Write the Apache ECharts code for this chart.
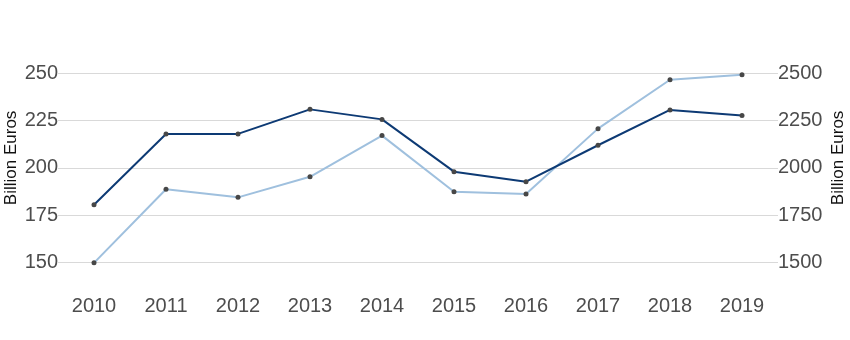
<!DOCTYPE html>
<html>
<head>
<meta charset="utf-8">
<script src="https://cdn.jsdelivr.net/npm/echarts@6/dist/echarts.min.js"></script>
<style>
  html, body { margin: 0; padding: 0; background: #fff; }
  #chart { width: 850px; height: 340px; }
</style>
</head>
<body>
<div id="chart"></div>
<script>
// Years on the category axis
const years = ['2010', '2011', '2012', '2013', '2014', '2015', '2016', '2017', '2018', '2019'];
// Left axis series (dark line), billion euros
const seriesLeft = [180.5, 218, 218, 231, 225.7, 198, 192.7, 212, 230.7, 227.7];
// Right axis series (light line), billion euros
const seriesRight = [1497, 1887, 1844, 1953, 2171, 1874, 1862, 2208, 2467, 2494];
// Axis tick settings
const leftTicks = [150, 175, 200, 225, 250];
const rightTicks = [1500, 1750, 2000, 2250, 2500];
const axisTitle = 'Billion Euros';

const chart = echarts.init(document.getElementById('chart'), null, { renderer: 'canvas' });

const labelStyle = { color: '#4d4d4d', fontSize: 20, fontFamily: 'Liberation Sans, Arial, sans-serif' };
const nameStyle = { color: '#111', fontSize: 17, fontFamily: 'Liberation Sans, Arial, sans-serif', padding: [0, 0, 0, 20] };

chart.setOption({
  animation: false,
  backgroundColor: '#ffffff',
  grid: { left: 58, right: 72, top: 73.5, bottom: 77.7, containLabel: false, outerBoundsMode: 'none' },
  xAxis: {
    type: 'category',
    data: years,
    boundaryGap: true,
    axisLine: { show: false },
    axisTick: { show: false },
    splitLine: { show: false },
    axisLabel: Object.assign({ margin: 34 }, labelStyle)
  },
  yAxis: [
    {
      type: 'value',
      min: leftTicks[0],
      max: leftTicks[leftTicks.length - 1],
      interval: leftTicks[1] - leftTicks[0],
      name: axisTitle,
      nameLocation: 'middle',
      nameGap: 38,
      nameRotate: 90,
      nameMoveOverlap: false,
      nameTextStyle: nameStyle,
      axisLine: { show: false },
      axisTick: { show: false },
      axisLabel: Object.assign({ margin: 0, formatter: (v) => String(v) }, labelStyle),
      splitLine: { show: true, lineStyle: { color: '#d9d9d9', width: 1 } }
    },
    {
      type: 'value',
      min: rightTicks[0],
      max: rightTicks[rightTicks.length - 1],
      interval: rightTicks[1] - rightTicks[0],
      name: axisTitle,
      nameLocation: 'middle',
      nameGap: 52,
      nameRotate: 90,
      nameMoveOverlap: false,
      nameTextStyle: Object.assign({}, nameStyle),
      axisLine: { show: false },
      axisTick: { show: false },
      axisLabel: Object.assign({ margin: 0, formatter: (v) => String(v) }, labelStyle),
      splitLine: { show: false }
    }
  ],
  series: [
    {
      type: 'line',
      yAxisIndex: 1,
      data: seriesRight,
      symbol: 'circle',
      symbolSize: 5,
      clip: false,
      lineStyle: { color: '#9fc0de', width: 2 },
      itemStyle: { color: '#474747' },
      z: 2
    },
    {
      type: 'line',
      yAxisIndex: 0,
      data: seriesLeft,
      symbol: 'circle',
      symbolSize: 5,
      clip: false,
      lineStyle: { color: '#0d3a74', width: 2 },
      itemStyle: { color: '#474747' },
      z: 3
    }
  ]
});
</script>
</body>
</html>
